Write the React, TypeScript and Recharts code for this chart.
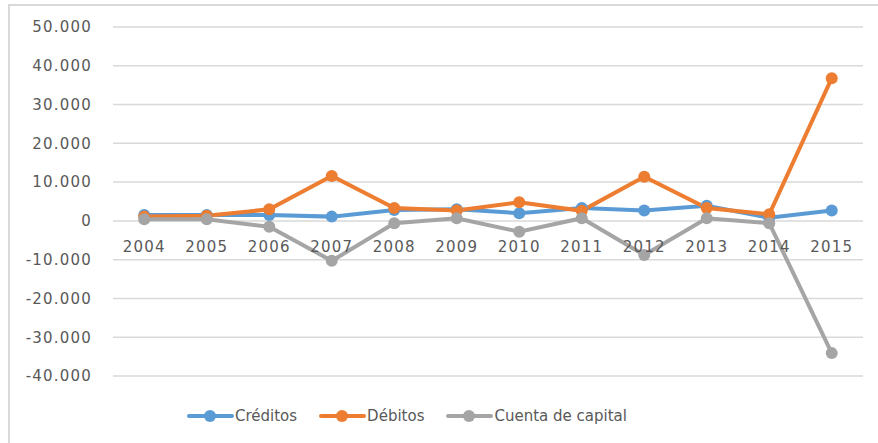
import { LineChart, Line, XAxis, YAxis, CartesianGrid } from "recharts"

const years = ["2004", "2005", "2006", "2007", "2008", "2009", "2010", "2011", "2012", "2013", "2014", "2015"]
const creditos = [1500, 1500, 1500, 1100, 2800, 3000, 2000, 3300, 2700, 3900, 800, 2700]
const debitos = [1100, 1300, 3000, 11600, 3300, 2700, 4800, 2600, 11400, 3300, 1700, 36800]
const cuentaCapital = [400, 400, -1500, -10300, -600, 700, -2800, 700, -8800, 700, -600, -34100]
const yTicks = [-40000, -30000, -20000, -10000, 0, 10000, 20000, 30000, 40000, 50000]

const series = [
  { key: "creditos", name: "Créditos", color: "#5B9BD5" },
  { key: "debitos", name: "Débitos", color: "#ED7D31" },
  { key: "capital", name: "Cuenta de capital", color: "#A5A5A5" }
]

const data = years.map((year, i) => ({
  year,
  creditos: creditos[i],
  debitos: debitos[i],
  capital: cuentaCapital[i]
}))

const W = 878
const H = 443
const xAxisH = 20
const margin = { top: 27, right: 15, bottom: 67 - xAxisH, left: 0 }
const yMin = -40000
const yMax = 50000
const plotH = H - margin.top - margin.bottom - xAxisH
const zeroY = margin.top + (plotH * yMax) / (yMax - yMin)

const font = "'DejaVu Sans', sans-serif"
const textColor = "#595959"

const fmt = (v: number) => {
  if (v === 0) return "0"
  const s = Math.abs(v).toString().replace(/\B(?=(\d{3})+(?!\d))/g, ".")
  return (v < 0 ? "-" : "") + s
}

function YearTick(props: any) {
  const { x, payload } = props
  return (
    <text
      x={x}
      y={zeroY + 31}
      textAnchor="middle"
      fill={textColor}
      fontSize={15}
      fontFamily={font}
      letterSpacing={1.2}
    >
      {payload.value}
    </text>
  )
}

function LegendRow() {
  return (
    <div
      style={{
        position: "absolute",
        top: 406,
        left: 187,
        display: "flex",
        gap: 22,
        fontFamily: font,
        fontSize: 15,
        color: textColor
      }}
    >
      {series.map(s => (
        <div key={s.key} style={{ display: "flex", alignItems: "center" }}>
          <svg width={47} height={20} style={{ marginRight: 1 }}>
            <line x1={2} y1={10} x2={45} y2={10} stroke={s.color} strokeWidth={4} strokeLinecap="round" />
            <circle cx={23} cy={10} r={6} fill={s.color} />
          </svg>
          <span>{s.name}</span>
        </div>
      ))}
    </div>
  )
}

export default function App() {
  return (
    <div style={{ position: "absolute", left: 0, top: 0, width: W, height: H, background: "white", overflow: "hidden" }}>
      <div
        style={{
          position: "absolute",
          left: 8,
          top: 4,
          width: W,
          height: H,
          borderTop: "2px solid #d9d9d9",
          borderLeft: "2px solid #d9d9d9"
        }}
      />
      <LineChart width={W} height={H} data={data} margin={margin}>
        <CartesianGrid horizontal vertical={false} stroke="#d9d9d9" strokeWidth={1.5} />
        <XAxis dataKey="year" scale="band" axisLine={false} tickLine={false} tick={<YearTick />} height={xAxisH} />
        <YAxis
          domain={[yMin, yMax]}
          ticks={yTicks}
          interval={0}
          width={113}
          axisLine={false}
          tickLine={false}
          tickSize={0}
          tickMargin={21}
          tickFormatter={fmt}
          tick={{ fill: textColor, fontSize: 15, fontFamily: font, letterSpacing: 1.2 }}
        />
        {series.map(s => (
          <Line
            key={s.key}
            dataKey={s.key}
            name={s.name}
            stroke={s.color}
            strokeWidth={4}
            dot={{ r: 6, fill: s.color, stroke: s.color, strokeWidth: 0 }}
            isAnimationActive={false}
          />
        ))}
      </LineChart>
      <LegendRow />
    </div>
  )
}
